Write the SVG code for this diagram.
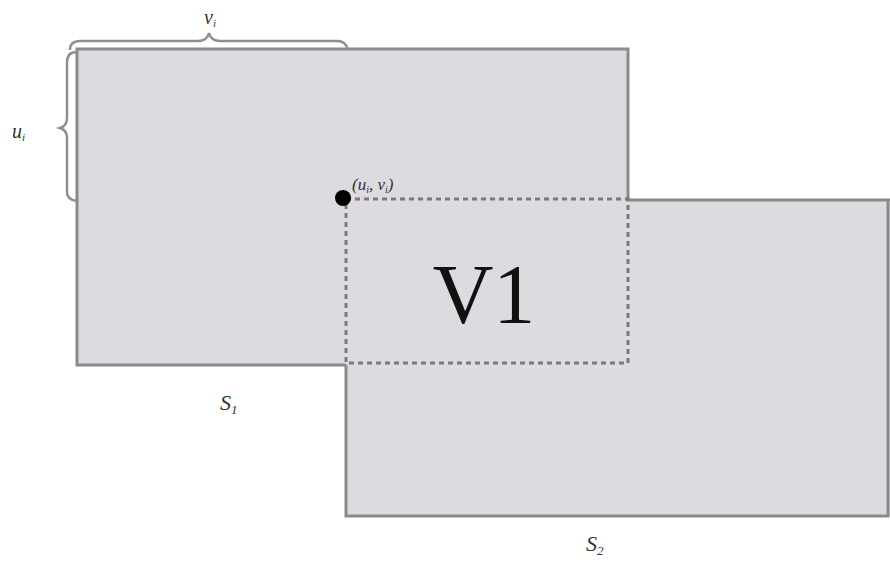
<svg xmlns="http://www.w3.org/2000/svg" width="890" height="563" viewBox="0 0 890 563">
<style>
.fill{fill:#dedbe0;stroke:none}
.edge{fill:none;stroke:#8a8a8a;stroke-width:3}
.dash{fill:none;stroke:#7a7a7a;stroke-width:3;stroke-dasharray:5 4}
.brace{fill:none;stroke:#8f8f8f;stroke-width:2.5}
.lbl{font-family:"Liberation Serif",serif;font-style:italic;fill:#333}
</style>
<rect width="890" height="563" fill="#ffffff"/>
<g id="S1"><rect class="fill" x="77" y="49" width="551" height="316"/></g>
<g id="S2"><rect class="fill" x="346" y="200" width="546" height="316"/></g>
<g id="outline">
<path class="edge" d="M346,365 H77 V49 H628 V200 H892"/>
<path class="edge" d="M888,200 V516 H346 V365"/>
</g>
<g id="V1">
<rect class="dash" x="346" y="199" width="282" height="164"/>
<text x="484" y="323" font-family="Liberation Serif,serif" font-size="84" text-anchor="middle" fill="#111">V1</text>
</g>
<g id="point">
<circle cx="343" cy="198" r="8" fill="#000"/>
<text class="lbl" x="352" y="190" font-size="17">(<tspan>u</tspan><tspan font-size="10" dy="3">i</tspan><tspan dy="-3">, v</tspan><tspan font-size="10" dy="3">i</tspan><tspan dy="-3">)</tspan></text>
</g>
<g id="braces">
<path class="brace" d="M70,50 Q70,41 80,41 H198 Q207,41 209,33 Q211,41 220,41 H337 Q346,41 348,50"/>
<path class="brace" d="M77,52 Q67,52 67,62 V118 Q67,126 60,128 Q67,130 67,138 V192 Q67,200 77,201"/>
<text class="lbl" x="204" y="24" font-size="20">v<tspan font-size="11" dy="3">i</tspan></text>
<text class="lbl" x="12" y="138" font-size="20">u<tspan font-size="11" dy="3">i</tspan></text>
</g>
<g id="labels">
<text class="lbl" x="220" y="410" font-size="22">S<tspan font-size="13" dy="4">1</tspan></text>
<text class="lbl" x="586" y="551" font-size="22">S<tspan font-size="13" dy="4">2</tspan></text>
</g>
</svg>
